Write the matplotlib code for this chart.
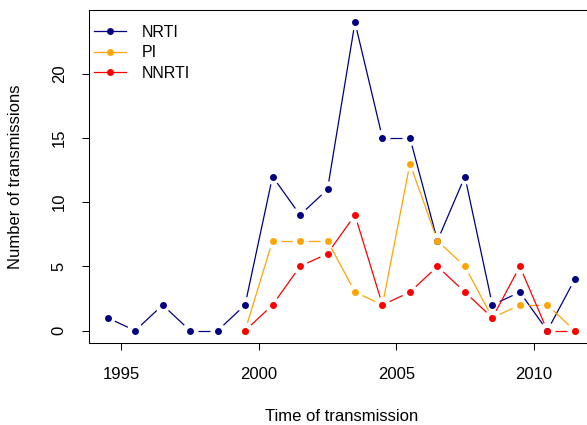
import numpy as np
import matplotlib
matplotlib.use("Agg")
import matplotlib.pyplot as plt
from matplotlib.collections import LineCollection
from matplotlib.lines import Line2D

plt.rcParams['font.family'] = ['Liberation Sans', 'DejaVu Sans']

# transmissions per year (mid-year positions)
nrti_years = [1994.5, 1995.5, 1996.5, 1997.5, 1998.5, 1999.5, 2000.5, 2001.5, 2002.5,
              2003.5, 2004.5, 2005.5, 2006.5, 2007.5, 2008.5, 2009.5, 2010.5, 2011.5]
nrti = [1, 0, 2, 0, 0, 2, 12, 9, 11, 24, 15, 15, 7, 12, 2, 3, 0, 4]

pi_years = [1999.5, 2000.5, 2001.5, 2002.5, 2003.5, 2004.5, 2005.5,
            2006.5, 2007.5, 2008.5, 2009.5, 2010.5, 2011.5]
pi = [0, 7, 7, 7, 3, 2, 13, 7, 5, 1, 2, 2, 0]

nnrti_years = pi_years
nnrti = [0, 2, 5, 6, 9, 2, 3, 5, 3, 1, 5, 0, 0]

series = [("NRTI", nrti_years, nrti, "#000080"),
          ("PI", pi_years, pi, "#FFA500"),
          ("NNRTI", nnrti_years, nnrti, "#FF0000")]

W, H = 587, 425
fig = plt.figure(figsize=(W / 100, H / 100), dpi=100)
ax = fig.add_axes([89 / W, 82 / H, (593.5 - 89) / W, 333 / H])
ax.set_xlim(1993.82, 2012.18)
ax.set_ylim(-0.96, 24.96)


def gapped(ax, x, y, gap=8.0):
    # type="b" style: segments stop short of each point
    pts = ax.transData.transform(np.column_stack([x, y]))
    inv = ax.transData.inverted()
    segs = []
    for p0, p1 in zip(pts[:-1], pts[1:]):
        d = p1 - p0
        L = np.hypot(*d)
        if L <= 2 * gap:
            continue
        u = d / L
        segs.append(inv.transform(np.array([p0 + u * gap, p1 - u * gap])))
    return segs


handles = []
for name, xs, ys, col in series:
    ax.add_collection(LineCollection(gapped(ax, xs, ys), colors=col, linewidths=0.9))
    ax.plot(xs, ys, ls="none", marker="o", ms=5, mew=0, color=col)
    handles.append(Line2D([], [], color=col, lw=0.9, marker="o", ms=5, mew=0, label=name))

ax.set_xticks([1995, 2000, 2005, 2010])
ax.set_yticks([0, 5, 10, 15, 20])
ax.tick_params(axis="both", direction="out", length=5, width=0.75, labelsize=12, colors="black")
ax.tick_params(axis="x", pad=12)
ax.tick_params(axis="y", pad=11, labelrotation=90)
for lab in ax.get_yticklabels():
    lab.set_va("center")
for sp in ax.spines.values():
    sp.set_linewidth(0.75)

ax.set_xlabel("Time of transmission", fontsize=12, va="center")
ax.xaxis.set_label_coords(0.5, (343 - 416.5) / 333)
ax.set_ylabel("Number of transmissions", fontsize=12, va="center")
ax.yaxis.set_label_coords((16 - 89) / 504.5, 0.5)

ax.legend(handles=handles, loc="upper left", frameon=False, fontsize=11.5,
          bbox_to_anchor=((94 - 89) / 504.5, (343 - 25) / 333),
          borderpad=0, borderaxespad=0, handlelength=2.0, handletextpad=1.0,
          labelspacing=0.33, numpoints=1)

fig.savefig("out.png", dpi=100)
